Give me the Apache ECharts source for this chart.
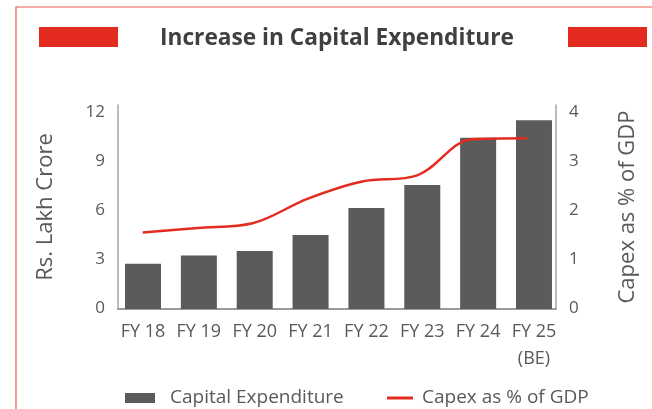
<!DOCTYPE html>
<html>
<head>
<meta charset="utf-8">
<script src="https://cdn.jsdelivr.net/npm/echarts@6/dist/echarts.min.js"></script>
<style>
  html, body { margin: 0; padding: 0; background: #ffffff; }
  #chart { width: 652px; height: 409px; }
</style>
</head>
<body>
<div id="chart"></div>
<script>
// Fiscal years shown on the horizontal axis
const categories = ['FY 18', 'FY 19', 'FY 20', 'FY 21', 'FY 22', 'FY 23', 'FY 24', 'FY 25\n(BE)'];
// Capital expenditure, Rs. lakh crore
const capex = [2.66, 3.14, 3.41, 4.35, 5.94, 7.29, 10.08, 11.11];
// Capital expenditure as a share of GDP, %
const capexPctGdp = [1.50, 1.59, 1.68, 2.16, 2.50, 2.62, 3.33, 3.35];
// Tick labels
const leftTicks = [0, 3, 6, 9, 12];
const rightTicks = [0, 1, 2, 3, 4];

const FONT = '"Open Sans", "Noto Sans", sans-serif';
const GREY_TEXT = '#595959';
const AXIS_GREY = '#a6a6a6';
const BASE_GREY = '#9a9a9a';
const RED = '#e32b1f';

const idx = categories.map((_, i) => i);
const barData = capex.map((v, i) => [i, v]);
const lineData = capexPctGdp.map((v, i) => [i, v]);

const chart = echarts.init(document.getElementById('chart'), null, { renderer: 'canvas' });

const valueAxisBase = {
  type: 'value',
  axisTick: { show: false },
  splitLine: { show: false }
};

chart.setOption({
  backgroundColor: '#ffffff',
  animation: false,
  title: {
    text: 'Increase in Capital Expenditure',
    left: 155,
    top: 22,
    textStyle: { fontFamily: FONT, fontSize: 22.7, fontWeight: 'bold', color: '#404040' }
  },
  graphic: [
    { type: 'rect', shape: { x: 16, y: 7, width: 700, height: 500 },
      style: { fill: 'none', stroke: '#ea5a50', lineWidth: 1.2 }, silent: true },
    { type: 'rect', shape: { x: 39, y: 27, width: 79, height: 20 },
      style: { fill: RED }, silent: true },
    { type: 'rect', shape: { x: 568, y: 27, width: 79, height: 20 },
      style: { fill: RED }, silent: true }
  ],
  legend: [
    {
      data: [{ name: 'Capital Expenditure', icon: 'rect' }],
      left: 120, top: 383,
      itemWidth: 30, itemHeight: 10,
      textStyle: { fontFamily: FONT, fontSize: 19, color: GREY_TEXT, padding: [0, 0, 0, 10], lineHeight: 20 }
    },
    {
      data: [{ name: 'Capex as % of GDP', icon: 'rect' }],
      left: 382, top: 383,
      itemWidth: 26, itemHeight: 3,
      textStyle: { fontFamily: FONT, fontSize: 19, color: GREY_TEXT, padding: [0, 0, 0, 4], lineHeight: 20 }
    }
  ],
  grid: [
    // plotting area
    { left: 118, right: 96, top: 105, bottom: 100, containLabel: false },
    // frame that carries the value-axis tick labels
    { left: 118, right: 96, top: 111.7, bottom: 100.7, containLabel: false }
  ],
  xAxis: [
    {
      type: 'value', gridIndex: 0, position: 'bottom',
      min: -0.4476, max: 7.394,
      axisLine: { show: true, onZero: false, lineStyle: { color: BASE_GREY, width: 2 } },
      axisTick: { show: false },
      splitLine: { show: false },
      axisLabel: {
        customValues: idx,
        formatter: v => categories[Math.round(v)],
        fontFamily: FONT, fontSize: 18, color: GREY_TEXT,
        lineHeight: 27, margin: 9
      }
    },
    {
      // positions for the share-of-GDP line
      type: 'value', gridIndex: 0, position: 'top',
      min: -0.45, max: 7.528,
      show: false
    },
    { type: 'value', gridIndex: 1, min: 0, max: 1, show: false }
  ],
  yAxis: [
    Object.assign({}, valueAxisBase, {
      gridIndex: 0, min: 0, max: 12, interval: 3, position: 'left',
      name: 'Rs. Lakh Crore', nameLocation: 'middle', nameRotate: 90, nameGap: 61,
      nameTextStyle: { fontFamily: FONT, fontSize: 22, color: GREY_TEXT },
      axisLine: { show: true, onZero: false, lineStyle: { color: AXIS_GREY, width: 1.5 } },
      axisLabel: { show: false }
    }),
    Object.assign({}, valueAxisBase, {
      gridIndex: 0, min: 0, max: 4, interval: 1, position: 'right',
      name: 'Capex as % of GDP', nameLocation: 'middle', nameRotate: 90, nameGap: 61,
      nameTextStyle: { fontFamily: FONT, fontSize: 22, color: GREY_TEXT },
      axisLine: { show: true, onZero: false, lineStyle: { color: AXIS_GREY, width: 1.5 } },
      axisLabel: { show: false }
    }),
    Object.assign({}, valueAxisBase, {
      gridIndex: 1, min: 0, max: 12, interval: 3, position: 'left',
      axisLine: { show: false, onZero: false },
      axisLabel: { customValues: leftTicks, fontFamily: FONT, fontSize: 17, color: GREY_TEXT, margin: 13 }
    }),
    Object.assign({}, valueAxisBase, {
      gridIndex: 1, min: 0, max: 4, interval: 1, position: 'right',
      axisLine: { show: false, onZero: false },
      axisLabel: { customValues: rightTicks, fontFamily: FONT, fontSize: 17, color: GREY_TEXT, margin: 13 }
    })
  ],
  series: [
    {
      name: 'Capital Expenditure',
      type: 'bar',
      xAxisIndex: 0, yAxisIndex: 0,
      barWidth: 36,
      data: barData,
      itemStyle: { color: '#5b5b5b' }
    },
    {
      name: 'Capex as % of GDP',
      type: 'line',
      xAxisIndex: 1, yAxisIndex: 1,
      data: lineData,
      smooth: 0.35,
      symbol: 'none',
      lineStyle: { color: RED, width: 2.5 },
      itemStyle: { color: RED }
    }
  ]
});
</script>
</body>
</html>
